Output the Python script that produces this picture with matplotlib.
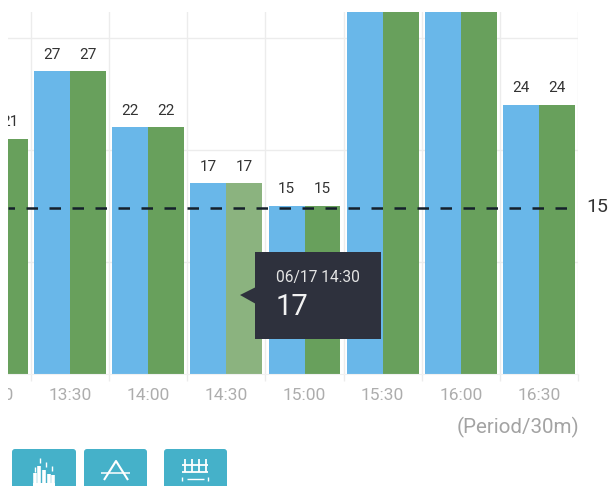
import matplotlib
matplotlib.use("Agg")
import matplotlib.pyplot as plt
from matplotlib.patches import Rectangle, Polygon, FancyBboxPatch
from matplotlib.transforms import Bbox, blended_transform_factory

plt.rcParams['font.family'] = ['Roboto', 'DejaVu Sans']

W = 612
H = 486

periods = ['13:00', '13:30', '14:00', '14:30', '15:00', '15:30', '16:00', '16:30']
blue_vals = [21, 27, 22, 17, 15, 34, 34, 24]
green_vals = [21, 27, 22, 17, 15, 34, 34, 24]
threshold = 15
y_grid = [10, 20, 30]
tip_title = '06/17 14:30'
tip_value = '17'
unit_label = '(Period/30m)'
hover_idx = 3

BLUE = '#69b7e9'
GREEN = '#68a05c'
GREEN_HOVER = '#8bb37f'
GRID = '#ececec'
DARK = '#2e313d'
TEAL = '#45b1c9'

fig = plt.figure(figsize=(W / 100, H / 100), dpi=100)

# plot area spans pixels x 8..578, y 12..374
ax = fig.add_axes([8 / W, 1 - 374 / H, 570 / W, 362 / H])
ax.set_xlim(0.205, 7.5)
ax.set_ylim(0, 32.3)

for s in ax.spines.values():
    s.set_visible(False)
ax.spines['bottom'].set_visible(True)
ax.spines['bottom'].set_color('#f1f1f1')
ax.set_axisbelow(True)

ax.set_yticks(y_grid)
ax.tick_params(axis='y', length=0, labelleft=False)
ax.grid(True, axis='y', color=GRID, lw=1)

ax.set_xticks([i + 0.5 for i in range(len(periods))], minor=True)
ax.set_xticks([])
ax.tick_params(axis='x', which='minor', length=5, color=GRID, width=1, labelbottom=False)
ax.grid(True, axis='x', which='minor', color=GRID, lw=1)

bar_w = 0.46
for i in range(len(periods)):
    c = GREEN_HOVER if i == hover_idx else GREEN
    ax.bar(i - bar_w / 2, blue_vals[i], bar_w, color=BLUE, zorder=2)
    ax.bar(i + bar_w / 2, green_vals[i], bar_w, color=c, zorder=2)
    # bars running past the top have no visible label
    if blue_vals[i] < 30:
        ax.text(i - bar_w / 2, blue_vals[i] + 0.85, str(blue_vals[i]), ha='center', va='bottom',
                fontsize=11, color='#333333', clip_on=True, zorder=3)
        ax.text(i + bar_w / 2, green_vals[i] + 0.85, str(green_vals[i]), ha='center', va='bottom',
                fontsize=11, color='#333333', clip_on=True, zorder=3)

# threshold line sits a little under the 15 bars in the original
ax.axhline(threshold - 0.2, color='#15202b', lw=1.8, linestyle=(2, (4.6, 4.6)), zorder=4)

# x labels as text so the first one gets cut at the plot edge like the original
trans = blended_transform_factory(ax.transData, fig.transFigure)
clip = Bbox([[8, 0], [W, H]])
for i, p in enumerate(periods):
    t = ax.text(i, 1 - 395 / H, p, transform=trans, ha='center', va='center',
                fontsize=12.5, color='#adadad', clip_on=True)
    t.set_clip_box(clip)

# overlay in image pixels for everything around the chart
ov = fig.add_axes([0, 0, 1, 1], zorder=5)
ov.set_xlim(0, W)
ov.set_ylim(H, 0)
ov.axis('off')
ov.patch.set_alpha(0)

ov.text(597, 207, str(threshold), ha='center', va='center', fontsize=14, color='#333333')
ov.text(579, 427, unit_label, ha='right', va='center', fontsize=14.8, color='#a3a3a3')

# tooltip
ov.add_patch(Rectangle((255, 252), 126, 87, facecolor=DARK, edgecolor='none', zorder=6))
ov.add_patch(Polygon([(240, 295), (256, 287), (256, 304)], closed=True, facecolor=DARK,
                     edgecolor='none', zorder=6))
ov.text(276, 277, tip_title, ha='left', va='center', fontsize=11.2, color='#e4e4e4', zorder=7)
ov.text(276, 307, tip_value, ha='left', va='center', fontsize=21, color='#f2f2f2', zorder=7)

# toolbar buttons below the chart
for x0, x1 in [(12, 76), (84, 147), (164, 227)]:
    ov.add_patch(FancyBboxPatch((x0 + 3, 452), x1 - x0 - 6, 50, boxstyle='round,pad=3',
                                facecolor=TEAL, edgecolor='none', zorder=2))


# button icons, thin white strokes
def stroke(xs, ys, lw=1.3):
    ov.plot(xs, ys, color='white', lw=lw, zorder=3, solid_capstyle='butt')


# first button: small bars with numbers on top
for bx, top in [(35, 473), (39, 466), (44, 470), (49, 474), (53, 475)]:
    stroke([bx, bx], [top, 483], lw=2.6)
for bx, by in [(35, 467), (40, 458), (46, 462), (52, 466)]:
    stroke([bx, bx], [by, by + 5], lw=1)
ov.add_patch(Rectangle((33, 483), 22, 4, facecolor='white', edgecolor='none', zorder=3))

# second button: peak crossing a line
stroke([104, 116, 128], [480, 461, 480], lw=1.5)
stroke([101, 130], [473, 473], lw=1.1)

# third button: grid with arrow under it
stroke([182, 208], [465, 465])
stroke([182, 208], [472, 472])
for vx in [185, 192, 199, 206]:
    stroke([vx, vx], [459, 472])
stroke([187, 204], [479, 479], lw=1)
stroke([182, 182], [477, 481], lw=1)
stroke([208, 208], [477, 481], lw=1)

fig.savefig('out.png', dpi=100)
